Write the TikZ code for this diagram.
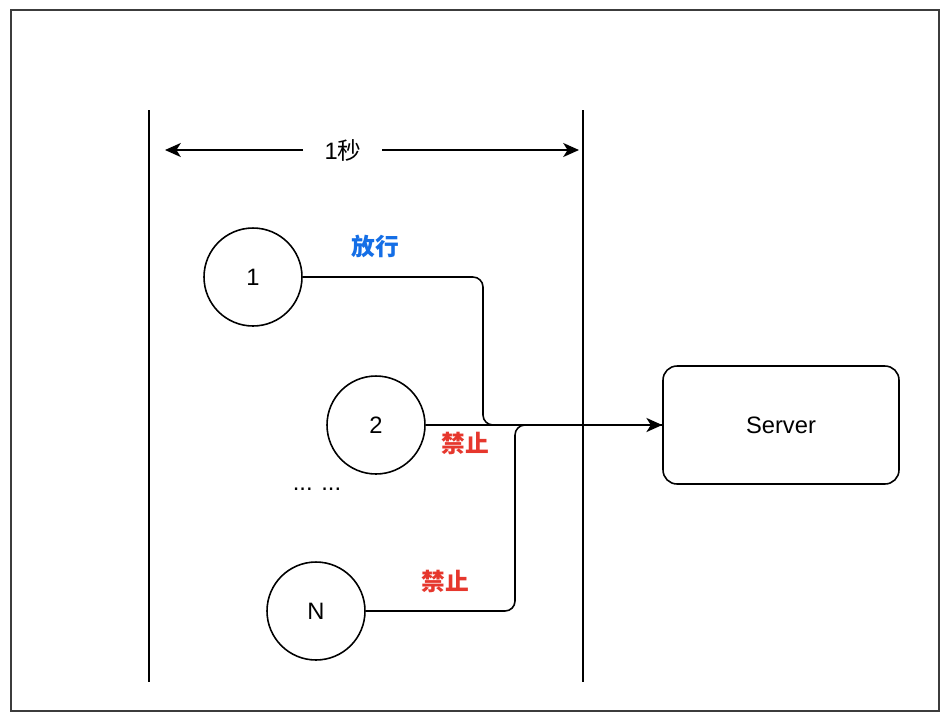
\documentclass[tikz,border=0pt]{standalone}
\usepackage{fontspec}
\setmainfont{Liberation Sans}
\newfontfamily\cjk{Noto Sans CJK SC}
\usetikzlibrary{arrows.meta,calc}
\definecolor{passblue}{RGB}{20,110,230}
\definecolor{stopred}{RGB}{230,55,45}
\definecolor{framegray}{RGB}{60,60,60}
\begin{document}
\begin{tikzpicture}[x=0.02cm,y=-0.02cm,
  every node/.style={font=\fontsize{13.5}{16}\selectfont},
  req/.style={draw,circle,line width=0.9pt,minimum size=1.96cm,inner sep=0pt},
  srv/.style={draw,rounded corners=0.28cm,line width=0.9pt,minimum width=4.72cm,minimum height=2.36cm},
  wire/.style={draw,line width=0.9pt,rounded corners=0.2cm},
  bound/.style={line width=0.9pt},
  tag/.style={font=\fontsize{13.5}{16}\selectfont\cjk\bfseries},
  tip/.style={-{Stealth[length=9pt,width=8pt,inset=2.5pt]}}
]
\useasboundingbox (0,0) rectangle (950,721);
\fill[white] (0,0) rectangle (950,721);
\draw[framegray,line width=1.2pt] (11,10) rectangle (939,711);

% window bounds
\coordinate (lt) at (149,110); \coordinate (lb) at (149,682);
\coordinate (rt) at (583,110); \coordinate (rb) at (583,682);
\draw[bound] (lt) -- (lb);
\draw[bound] (rt) -- (rb);

% 1 second span
\node (sec) at (343,150) {1{\cjk 秒}};
\coordinate (secL) at (165,150); \coordinate (secR) at (579,150);
\coordinate (secLg) at (303,150); \coordinate (secRg) at (382,150);
\draw[bound,tip] (secLg) -- (secL);
\draw[bound,tip] (secRg) -- (secR);

% requests
\node[req] (c1) at (253,277) {1};
\node[req] (c2) at (376,425) {2};
\node[req] (cN) at (316,611) {N};
\node (dots) at (317,489) {... ...};

% server
\node[srv] (server) at (781,425) {Server};

% routing
\coordinate (k1) at (483,350);
\coordinate (kN) at (515,500);
\draw[wire] (c1.east) -| (k1) |- (server.west);
\draw[wire] (cN.east) -| (kN) |- (server.west);
\draw[line width=1.2pt,tip] (c2.east) -- (server.west);

% labels
\node[tag,text=passblue] (pass) at (375,246) {放行};
\node[tag,text=stopred] (stop2) at (465,443) {禁止};
\node[tag,text=stopred] (stopN) at (445,581) {禁止};
\end{tikzpicture}
\end{document}
